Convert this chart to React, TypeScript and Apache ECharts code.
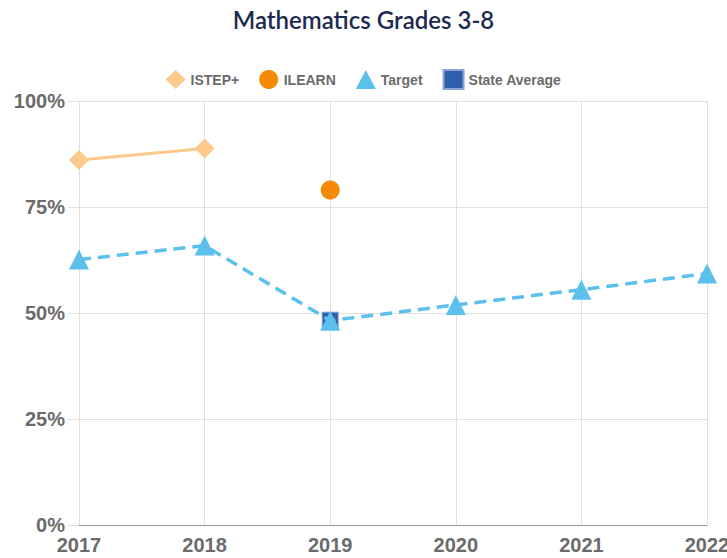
import React, { useEffect, useRef } from "react";
import * as echarts from "echarts";

const years = ["2017", "2018", "2019", "2020", "2021", "2022"];
const istep = [86.1, 88.8, null, null, null, null];
const ilearn = [null, null, 79.0, null, null, null];
const target = [62.6, 65.9, 48.2, 51.9, 55.5, 59.3];
const stateAvg = [null, null, 48.3, null, null, null];
const yTicks = [0, 25, 50, 75, 100];

export default function App() {
  const ref = useRef<HTMLDivElement>(null);
  useEffect(() => {
    const chart = echarts.init(ref.current!, null, { renderer: "svg" });
    const labelFont = {
      fontFamily: "'Liberation Sans', Arial, sans-serif",
      fontWeight: "bold" as const,
      color: "#6b6b6b",
      fontSize: 20,
    };
    chart.setOption({
      animation: false,
      backgroundColor: "#ffffff",
      title: {
        text: "Mathematics Grades 3-8",
        left: "center",
        top: 2,
        textStyle: { fontFamily: "Lato", fontWeight: 600, fontSize: 24, color: "#1c2a50" },
      },
      legend: {
        top: 64,
        left: "center",
        itemGap: 20,
        itemWidth: 20,
        itemHeight: 19,
        textStyle: { fontFamily: "Liberation Sans, Arial, sans-serif", fontWeight: "bold", fontSize: 14, color: "#6b6b6b" },
        data: [
          { name: "ISTEP+", icon: "diamond", itemStyle: { color: "#fdca8c" } },
          { name: "ILEARN", icon: "circle", itemStyle: { color: "#f58a07" } },
          { name: "Target", icon: "triangle", itemStyle: { color: "#5bc0eb" } },
          { name: "State Average", icon: "rect", itemStyle: { color: "#2f5faa" } },
        ],
      },
      grid: { left: 79, right: 20, top: 101, bottom: 33, containLabel: false, outerBoundsMode: "none" },
      xAxis: {
        type: "category",
        data: years,
        boundaryGap: false,
        axisLine: { show: true, lineStyle: { color: "#999999", width: 1 } },
        axisTick: { show: false },
        axisLabel: { ...labelFont, margin: 10 },
        splitLine: { show: true, lineStyle: { color: "#e0e0e0" } },
      },
      yAxis: {
        type: "value",
        min: 0,
        max: 100,
        interval: 25,
        axisLine: { show: false },
        axisTick: { show: true, length: 11, lineStyle: { color: "#e0e0e0" } },
        axisLabel: {
          ...labelFont,
          margin: 14,
          formatter: (v: number) => (yTicks.includes(v) ? v + "%" : ""),
        },
        splitLine: { show: true, lineStyle: { color: "#e0e0e0" } },
      },
      series: [
        {
          name: "ISTEP+",
          type: "line",
          data: istep,
          symbol: "diamond",
          symbolSize: 20,
          itemStyle: { color: "#fdca8c" },
          lineStyle: { color: "#fdca8c", width: 3 },
          z: 3,
        },
        {
          name: "ILEARN",
          type: "line",
          data: ilearn,
          symbol: "circle",
          symbolSize: 19,
          itemStyle: { color: "#f58a07" },
          z: 3,
        },
        {
          name: "State Average",
          type: "line",
          data: stateAvg,
          symbol: "rect",
          symbolSize: 16,
          itemStyle: { color: "#2f5faa", borderColor: "#8aa4d6", borderWidth: 1 },
          z: 2,
        },
        {
          name: "Target",
          type: "line",
          data: target,
          symbol: "triangle",
          symbolSize: 20,
          itemStyle: { color: "#5bc0eb" },
          lineStyle: { color: "#5bc0eb", width: 3.5, type: [12, 7] },
          z: 4,
        },
      ],
    });
    return () => chart.dispose();
  }, []);
  return <div ref={ref} style={{ width: 727, height: 558, position: "absolute", left: 0, top: 0 }} />;
}
